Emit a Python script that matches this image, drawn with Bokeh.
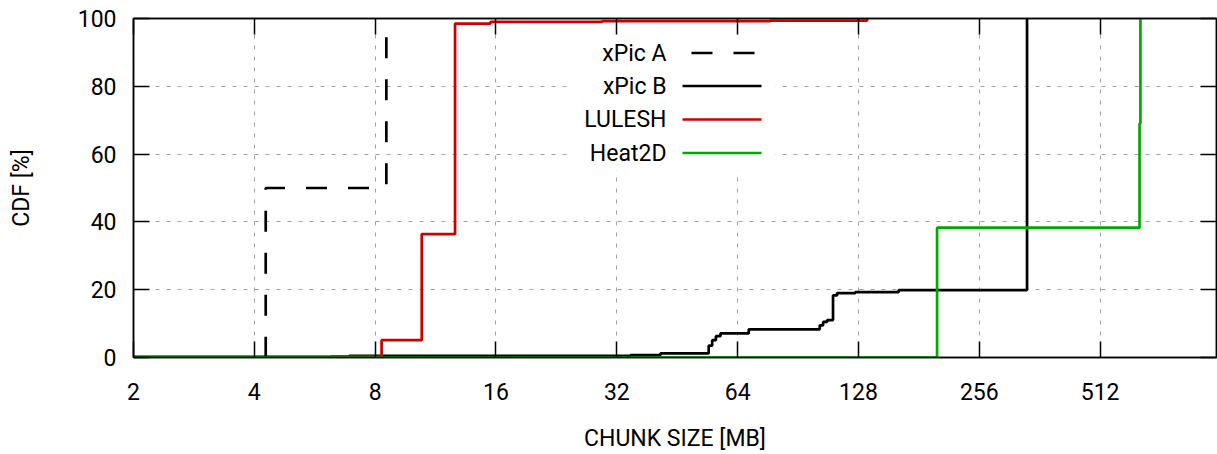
from bokeh.plotting import figure
from bokeh.models import (Range1d, FixedTicker, LogAxis, LinearAxis, Label, Arrow,
                          BoxAnnotation)
from bokeh.embed import file_html
from bokeh.resources import INLINE

# ---------------- data ----------------
series_names = ["xPic A", "xPic B", "LULESH", "Heat2D"]

xpic_a_size = [2, 4.27, 8.53]
xpic_a_cdf = [0, 50, 100]

xpic_b_size = [2, 6.9, 34.6, 41.1, 54.2, 55.3, 56.5, 58.0, 68.2, 102.5, 104.5,
               106.9, 110.6, 113.2, 125.7, 161.2, 336.6]
xpic_b_cdf = [0.2, 0.5, 0.7, 1.2, 3.5, 5.1, 6.3, 7.1, 8.3, 9.5, 10.5,
              11.0, 18.3, 19.0, 19.3, 19.9, 100]

lulesh_size = [6.2, 8.3, 10.45, 12.65, 15.5, 29.4, 77.2, 134.5]
lulesh_cdf = [0.3, 5.1, 36.4, 98.5, 99.0, 99.2, 99.4, 100]

heat2d_size = [2, 200.9, 641.8, 645.0]
heat2d_cdf = [0, 38.3, 69.0, 100]

x_tick_values = [2, 4, 8, 16, 32, 64, 128, 256, 512]
x_tick_labels = ["2", "4", "8", "16", "32", "64", "128", "256", "512"]
y_tick_values = [0, 20, 40, 60, 80, 100]

# ---------------- styles ----------------
FONT = "Roboto"
FS = "23px"
colors = ["black", "black", "#cc0000", "#00a800"]
dashes = ["21 21", "solid", "solid", "solid"]
dash_offsets = [36, 0, 0, 0]
legend_dash_offsets = [33, 0, 0, 0]
LW = 2.7

p = figure(width=1217, height=454, x_axis_type="log",
           x_range=Range1d(2, 998), y_range=Range1d(0, 100),
           output_backend="svg", toolbar_location=None,
           min_border_left=133, min_border_right=1,
           min_border_top=18, min_border_bottom=97,
           x_axis_label="CHUNK SIZE [MB]", y_axis_label="CDF [%]")
p.background_fill_color = "white"
p.border_fill_color = "white"
p.outline_line_color = "black"
p.outline_line_width = 1.5
p.outline_line_alpha = 1.0

xt = FixedTicker(ticks=x_tick_values, minor_ticks=[])
yt = FixedTicker(ticks=y_tick_values, minor_ticks=[])

p.xaxis.ticker = xt
p.yaxis.ticker = yt
p.xaxis.major_label_overrides = {v: s for v, s in zip(x_tick_values, x_tick_labels)}

for ax in (p.xaxis[0], p.yaxis[0]):
    ax.major_tick_in = 16
    ax.major_tick_out = 0
    ax.minor_tick_in = 0
    ax.minor_tick_out = 0
    ax.minor_tick_line_color = None
    ax.major_tick_line_color = "black"
    ax.major_tick_line_width = 1.5
    ax.axis_line_color = "black"
    ax.axis_line_width = 1.5
    ax.major_label_text_font = FONT
    ax.major_label_text_font_size = FS
    ax.major_label_text_color = "black"
    ax.axis_label_text_font = FONT
    ax.axis_label_text_font_size = FS
    ax.axis_label_text_font_style = "normal"
    ax.axis_label_text_color = "black"

p.xaxis.major_label_standoff = 25
p.xaxis.axis_label_standoff = 22
p.yaxis.major_label_standoff = 17
p.yaxis.axis_label_standoff = 40

# mirrored ticks on top and right
top = LogAxis(ticker=FixedTicker(ticks=x_tick_values, minor_ticks=[]))
right = LinearAxis(ticker=FixedTicker(ticks=y_tick_values, minor_ticks=[]))
for ax in (top, right):
    ax.major_tick_in = 16
    ax.major_tick_out = 0
    ax.minor_tick_in = 0
    ax.minor_tick_out = 0
    ax.minor_tick_line_color = None
    ax.major_tick_line_width = 1.5
    ax.axis_line_color = "black"
    ax.axis_line_width = 1.5
    ax.major_label_text_font_size = "0px"
    ax.major_label_text_color = None
    ax.major_label_standoff = 0
    ax.axis_label_standoff = 0
p.add_layout(top, "above")
p.add_layout(right, "right")

for g in (p.xgrid[0], p.ygrid[0]):
    g.grid_line_color = "#a0a0a0"
    g.grid_line_dash = "4 7"
    g.grid_line_width = 1
p.xgrid.ticker = xt
p.ygrid.ticker = yt

# ---------------- curves ----------------
data = [(xpic_a_size, xpic_a_cdf), (xpic_b_size, xpic_b_cdf),
        (lulesh_size, lulesh_cdf), (heat2d_size, heat2d_cdf)]
for (xs, ys), c, d, off in zip(data, colors, dashes, dash_offsets):
    p.step(xs, ys, mode="after", line_color=c, line_width=LW, line_dash=d,
           line_dash_offset=off)

# ---------------- legend (label left, sample right, like gnuplot) ----------------
box = BoxAnnotation(left=435, right=642, bottom=187, top=330,
                    left_units="screen", right_units="screen",
                    bottom_units="screen", top_units="screen",
                    fill_color="white", fill_alpha=1.0, line_color=None,
                    level="glyph")
p.add_layout(box)

leg_y = [304.5, 271.5, 238, 204.5]
for name, c, d, off, yy in zip(series_names, colors, dashes, legend_dash_offsets, leg_y):
    p.add_layout(Label(x=533, y=yy, x_units="screen", y_units="screen", text=name,
                       text_align="right", text_baseline="middle",
                       text_font=FONT, text_font_size=FS, text_color="black"))
    p.add_layout(Arrow(end=None, x_start=549, y_start=yy, x_end=628, y_end=yy,
                       start_units="screen", end_units="screen",
                       line_color=c, line_width=LW, line_dash=d,
                       line_dash_offset=off))

open("out.html", "w").write(file_html(p, INLINE))
